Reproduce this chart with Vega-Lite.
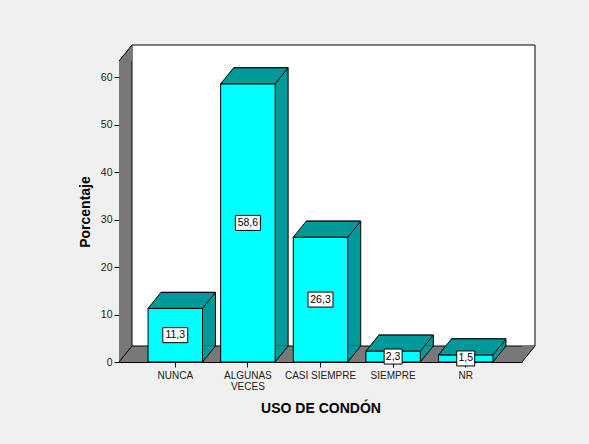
{
  "$schema": "https://vega.github.io/schema/vega-lite/v6.json",
  "width": 403,
  "height": 301,
  "autosize": "none",
  "padding": {"left": 119, "top": 61, "right": 67, "bottom": 82},
  "background": "#F0F0F0",
  "config": {
    "view": {"stroke": null},
    "font": "Liberation Sans",
    "locale": {"number": {"decimal": ",", "thousands": ".", "grouping": [3], "currency": ["", " €"]}}
  },
  "layer": [
    {
      "data": {"values": [{"part": "frame"}]},
      "layer": [
        {
          "mark": {"type": "rect", "fill": "#787878", "strokeWidth": 0},
          "encoding": {
            "x": {"datum": 0, "type": "quantitative", "scale": {"domain": [0, 1], "nice": false, "zero": false}, "axis": null},
            "x2": {"datum": 1},
            "y": {"datum": 0, "type": "quantitative", "title": "Porcentaje", "scale": {"domain": [0, 63.4], "nice": false}},
            "y2": {"datum": 63.4}
          }
        },
        {
          "mark": {"type": "rect", "fill": "#FFFFFF", "stroke": "#000000", "strokeWidth": 1, "xOffset": 13, "x2Offset": 13, "yOffset": -16, "y2Offset": -16},
          "encoding": {
            "x": {"datum": 0, "type": "quantitative", "scale": {"domain": [0, 1], "nice": false, "zero": false}, "axis": null},
            "x2": {"datum": 1},
            "y": {"datum": 0, "type": "quantitative", "title": "Porcentaje"},
            "y2": {"datum": 63.4}
          }
        },
        {
          "mark": {"type": "point", "shape": "M0,0L13,-16L13,0Z", "size": 4, "filled": true, "fill": "#787878", "strokeWidth": 0, "opacity": 1},
          "encoding": {
            "x": {"datum": 0, "type": "quantitative", "axis": null},
            "y": {"datum": 63.4, "type": "quantitative", "title": "Porcentaje"}
          }
        },
        {
          "mark": {"type": "point", "shape": "M0,0L13,-16L0,-16Z", "size": 4, "filled": true, "fill": "#787878", "strokeWidth": 0, "opacity": 1},
          "encoding": {
            "x": {"datum": 1, "type": "quantitative", "axis": null},
            "y": {"datum": 0, "type": "quantitative", "title": "Porcentaje"}
          }
        },
        {
          "mark": {"type": "point", "shape": "M0,0L13,-16", "size": 4, "filled": false, "fill": null, "stroke": "#000000", "strokeWidth": 1, "opacity": 1},
          "encoding": {
            "x": {"datum": 0, "type": "quantitative", "axis": null},
            "y": {"datum": 63.4, "type": "quantitative", "title": "Porcentaje"}
          }
        },
        {
          "mark": {"type": "point", "shape": "M0,0L13,-16", "size": 4, "filled": false, "fill": null, "stroke": "#000000", "strokeWidth": 1, "opacity": 1},
          "encoding": {
            "x": {"datum": 0, "type": "quantitative", "axis": null},
            "y": {"datum": 0, "type": "quantitative", "title": "Porcentaje"}
          }
        },
        {
          "mark": {"type": "point", "shape": "M0,0L13,-16", "size": 4, "filled": false, "fill": null, "stroke": "#000000", "strokeWidth": 1, "opacity": 1},
          "encoding": {
            "x": {"datum": 1, "type": "quantitative", "axis": null},
            "y": {"datum": 0, "type": "quantitative", "title": "Porcentaje"}
          }
        }
      ]
    },
    {
      "data": {
        "values": [
          {"cat": "NUNCA", "pct": 11.3},
          {"cat": "ALGUNAS VECES", "pct": 58.6},
          {"cat": "CASI SIEMPRE", "pct": 26.3},
          {"cat": "SIEMPRE", "pct": 2.3},
          {"cat": "NR", "pct": 1.5}
        ]
      },
      "encoding": {
        "x": {
          "field": "cat", "type": "nominal", "sort": null,
          "scale": {"paddingInner": 0.25, "paddingOuter": 0.4},
          "axis": {
            "title": "USO DE CONDÓN", "titleFontSize": 14, "titleFontWeight": "bold", "titleColor": "#000000", "titlePadding": 10,
            "labelAngle": 0, "labelFontSize": 10, "labelColor": "#222222", "labelPadding": 3, "labelLineHeight": 11,
            "labelExpr": "datum.label == 'ALGUNAS VECES' ? ['ALGUNAS', 'VECES'] : datum.label",
            "tickSize": 5, "tickColor": "#000000", "domainColor": "#000000"
          }
        },
        "y": {
          "field": "pct", "type": "quantitative",
          "scale": {"domain": [0, 63.4], "nice": false},
          "axis": {
            "title": "Porcentaje", "values": [0, 10, 20, 30, 40, 50, 60], "grid": false,
            "titleFontSize": 14, "titleFontWeight": "bold", "titleColor": "#000000", "titlePadding": 8,
            "labelFontSize": 10.5, "labelColor": "#222222", "labelPadding": 2,
            "tickSize": 5, "tickColor": "#000000", "domainColor": "#000000"
          }
        }
      },
      "layer": [
        {
          "mark": {"type": "bar", "fill": "#009999", "stroke": "#000000", "strokeWidth": 1, "xOffset": 13, "yOffset": -16, "y2Offset": -16}
        },
        {
          "mark": {"type": "point", "shape": "M0,0L13,-16L12.5,-16.6L0,-16.6Z", "size": 4, "filled": true, "fill": "#009999", "strokeWidth": 0, "opacity": 1},
          "encoding": {
            "x": {"field": "cat", "type": "nominal", "sort": null, "bandPosition": 1},
            "y": {"datum": 0, "type": "quantitative"}
          }
        },
        {
          "mark": {"type": "bar", "fill": "#00FFFF", "stroke": "#000000", "strokeWidth": 1}
        },
        {
          "mark": {"type": "point", "shape": "M0,0L54.5,0L67.5,-16L13,-16Z", "size": 4, "filled": true, "fill": "#009999", "stroke": "#000000", "strokeWidth": 1, "opacity": 1},
          "encoding": {
            "x": {"field": "cat", "type": "nominal", "sort": null, "bandPosition": 0}
          }
        },
        {
          "mark": {"type": "point", "shape": "M0,0L13,-16", "size": 4, "filled": false, "fill": null, "stroke": "#000000", "strokeWidth": 1, "opacity": 1},
          "encoding": {
            "x": {"field": "cat", "type": "nominal", "sort": null, "bandPosition": 1},
            "y": {"datum": 0, "type": "quantitative"}
          }
        },
        {
          "transform": [{"calculate": "datum.pct / 2", "as": "mid"}],
          "mark": {"type": "point", "size": 4, "filled": true, "fill": "#FFFFFF", "stroke": "#000000", "strokeWidth": 1, "opacity": 1},
          "encoding": {
            "y": {"field": "mid", "type": "quantitative"},
            "shape": {
              "condition": {"test": "datum.pct >= 10", "value": "M-12.5,-7.5L12.5,-7.5L12.5,7.5L-12.5,7.5Z"},
              "value": "M-9,-7.5L9,-7.5L9,7.5L-9,7.5Z"
            }
          }
        },
        {
          "transform": [{"calculate": "datum.pct / 2", "as": "mid"}],
          "mark": {"type": "text", "fontSize": 10.5, "color": "#000000", "baseline": "middle", "align": "center"},
          "encoding": {
            "y": {"field": "mid", "type": "quantitative"},
            "text": {"field": "pct", "type": "quantitative", "format": ".1f"}
          }
        }
      ]
    }
  ],
  "resolve": {"scale": {"x": "independent"}}
}
